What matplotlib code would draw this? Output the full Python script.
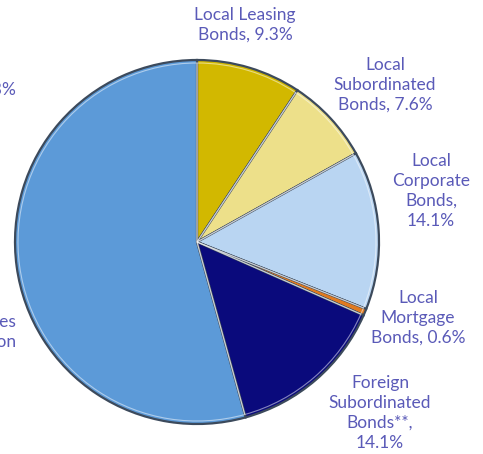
import matplotlib.pyplot as plt

# slices, clockwise from 12 o'clock
labels = ['Local Leasing\nBonds, 9.3%', 'Local\nSubordinated\nBonds, 7.6%',
          'Local\nCorporate\nBonds,\n14.1%', 'Local\nMortgage\nBonds, 0.6%',
          'Foreign\nSubordinated\nBonds**,\n14.1%', 'Government\nBonds, 54.3%']
shares = [9.3, 7.6, 14.1, 0.6, 14.1, 54.3]
colors = ['#d2b800', '#ede08a', '#b9d5f2', '#e07a20', '#0a0a7c', '#5c9ad8']

# label anchors in pixel coords (x, y from top)
label_pos = [(245, 25), (385, 85), (431, 191), (418, 318), (380, 413), (16, 90)]
extra_label = 'Treasury Securities\nissued by the Nation'

W, H = 483, 454
fig = plt.figure(figsize=(W / 100, H / 100), dpi=100)
ax = fig.add_axes([0, 0, 1, 1])

cx, cy, r = 197, H - 242, 182
wedges, _ = ax.pie(shares, colors=colors, startangle=90, counterclock=False,
                   center=(cx, cy), radius=r, frame=True,
                   wedgeprops=dict(edgecolor='#3c4a5c', linewidth=1.6))
# light inner rim to hint at the bevel
ax.pie(shares, colors=['none'] * len(shares), startangle=90, counterclock=False,
       center=(cx, cy), radius=r - 3, frame=True,
       wedgeprops=dict(edgecolor='white', linewidth=0.8, alpha=0.5))
ax.set_xlim(0, W)
ax.set_ylim(0, H)
ax.set_aspect('equal')
ax.axis('off')

txt_color = '#5a5ab8'
font = ['Lato', 'DejaVu Sans']
fs = 12.5
for i, lab in enumerate(labels):
    x, y = label_pos[i]
    if i == len(labels) - 1:
        # big slice label, cut off at the left edge as in the original
        ax.text(x, H - y, lab.split('\n')[-1], ha='right', va='center',
                color=txt_color, fontsize=fs, family=font)
    else:
        ax.text(x, H - y, lab, ha='center', va='center', color=txt_color,
                fontsize=fs, family=font, linespacing=1.3)

ax.text(16, H - 332, extra_label, ha='right', va='center', color=txt_color,
        fontsize=fs, family=font, linespacing=1.3)

fig.savefig('out.png', dpi=100)
